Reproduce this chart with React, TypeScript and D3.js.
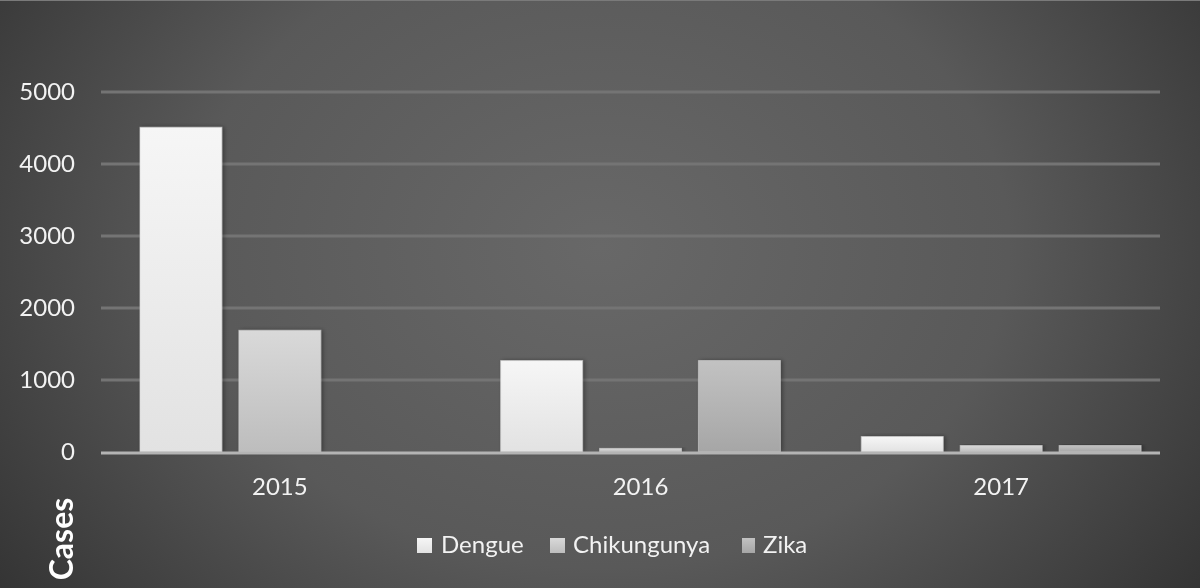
import React from "react";
import * as d3 from "d3";

const years = ["2015", "2016", "2017"];
const series = ["Dengue", "Chikungunya", "Zika"];
const dengue = [4510, 1270, 215];
const chikungunya = [1690, 50, 90];
const zika = [0, 1270, 90];
const yTicks = [0, 1000, 2000, 3000, 4000, 5000];

const W = 1200;
const H = 588;
const M = { left: 101, right: 1160, top: 92, bottom: 452 };

const gradStops: Record<string, [string, string]> = {
  Dengue: ["#f6f6f6", "#e2e2e2"],
  Chikungunya: ["#d9d9d9", "#bdbdbd"],
  Zika: ["#c2c2c2", "#a6a6a6"],
};

export default function App() {
  const values: Record<string, number[]> = { Dengue: dengue, Chikungunya: chikungunya, Zika: zika };
  const x0 = d3.scaleBand<string>().domain(years).range([99.5, 1181.5]).padding(0);
  const x1 = d3
    .scaleBand<string>()
    .domain(series)
    .range([0, x0.bandwidth()])
    .paddingInner(0.1717)
    .paddingOuter(0.409);
  const y = d3.scaleLinear().domain([0, 5000]).range([M.bottom, M.top]);
  const font = "Lato, 'Open Sans', sans-serif";

  const legendItems = [
    { name: "Dengue", sx: 417, tx: 441, sw: 15 },
    { name: "Chikungunya", sx: 550, tx: 573, sw: 15 },
    { name: "Zika", sx: 742, tx: 763, sw: 13 },
  ];

  return (
    <svg
      width={W}
      height={H}
      style={{ position: "fixed", left: 0, top: 0, display: "block" }}
      viewBox={`0 0 ${W} ${H}`}
    >
      <defs>
        <radialGradient id="bg" cx="0.5" cy="0.42" r="0.62" gradientTransform="translate(0.5,0.42) scale(1,1.6) translate(-0.5,-0.42)">
          <stop offset="0" stopColor="#686868" />
          <stop offset="0.55" stopColor="#595959" />
          <stop offset="1" stopColor="#343434" />
        </radialGradient>
        {series.map((s) => (
          <linearGradient key={s} id={`g-${s}`} x1="0" y1="0" x2="0" y2="1">
            <stop offset="0" stopColor={gradStops[s][0]} />
            <stop offset="1" stopColor={gradStops[s][1]} />
          </linearGradient>
        ))}
        <filter id="shadow" x="-20%" y="-20%" width="140%" height="140%">
          <feDropShadow dx="2" dy="0" stdDeviation="2" floodColor="#000" floodOpacity="0.35" />
        </filter>
      </defs>
      <rect x={0} y={0} width={W} height={H} fill="url(#bg)" />
      <line x1={0} x2={W} y1={0.5} y2={0.5} stroke="#7a7a7a" strokeWidth={1} />

      {yTicks.slice(1).map((t) => (
        <line key={t} x1={M.left} x2={M.right} y1={y(t)} y2={y(t)} stroke="#747474" strokeWidth={3} />
      ))}

      {years.map((yr, i) => (
        <g key={yr} transform={`translate(${x0(yr)},0)`}>
          {series.map((s) => {
            const v = values[s][i];
            if (v <= 0) return null;
            return (
              <rect
                key={s}
                x={x1(s)}
                y={y(v)}
                width={x1.bandwidth()}
                height={M.bottom - y(v)}
                fill={`url(#g-${s})`}
                stroke="#d0d0d0"
                strokeOpacity={0.6}
                strokeWidth={1}
                filter="url(#shadow)"
              />
            );
          })}
        </g>
      ))}

      <line x1={M.left} x2={M.right} y1={M.bottom + 1} y2={M.bottom + 1} stroke="#b4b4b4" strokeWidth={3} />

      {yTicks.map((t) => (
        <text
          key={t}
          x={75}
          y={y(t)}
          dy="0.35em"
          textAnchor="end"
          fontFamily={font}
          fontSize={24}
          fill="#f2f2f2"
        >
          {t}
        </text>
      ))}

      {years.map((yr) => (
        <text
          key={yr}
          x={(x0(yr) as number) + x0.bandwidth() / 2}
          y={495}
          textAnchor="middle"
          fontFamily={font}
          fontSize={24}
          fill="#f2f2f2"
        >
          {yr}
        </text>
      ))}

      {legendItems.map((l) => (
        <g key={l.name}>
          <rect x={l.sx} y={538} width={l.sw} height={15} fill={`url(#g-${l.name})`} />
          <text x={l.tx} y={553} fontFamily={font} fontSize={24} fill="#f2f2f2">
            {l.name}
          </text>
        </g>
      ))}

      <text
        transform="translate(73,539) rotate(-90)"
        textAnchor="middle"
        fontFamily={font}
        fontSize={32}
        fontWeight="bold"
        fill="#ffffff"
      >
        Cases
      </text>
    </svg>
  );
}
